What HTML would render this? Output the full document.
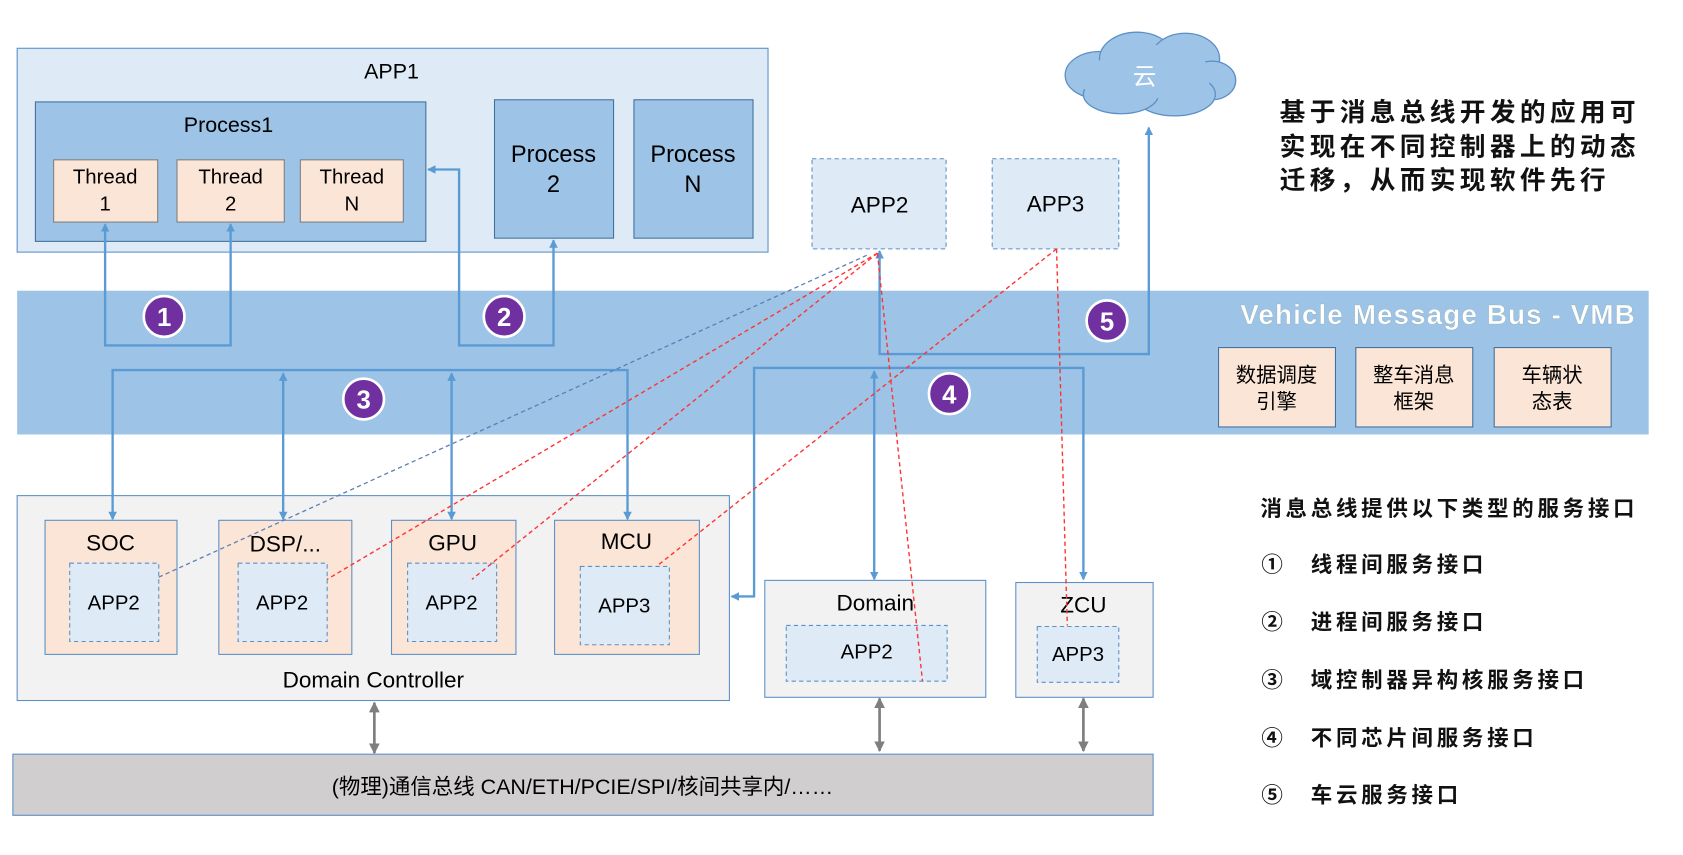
<!DOCTYPE html>
<html><head><meta charset="utf-8"><style>
html,body{margin:0;padding:0;background:#fff;}
svg{display:block;}
text{font-family:"Liberation Sans","Noto Sans CJK SC",sans-serif;}
</style></head><body>
<svg width="1683" height="855" viewBox="0 0 1569 797" preserveAspectRatio="none" xmlns="http://www.w3.org/2000/svg">
<defs>
<marker id="ab" markerWidth="8" markerHeight="8" refX="7" refY="4" orient="auto-start-reverse" markerUnits="userSpaceOnUse"><path d="M0,0 L8,4 L0,8 z" fill="#5b9bd5"/></marker>
<marker id="ag" markerWidth="10" markerHeight="10" refX="9" refY="5" orient="auto-start-reverse" markerUnits="userSpaceOnUse"><path d="M0,0 L10,5 L0,10 z" fill="#7f7f7f"/></marker>
</defs>
<rect x="16" y="45" width="700" height="190" fill="#deebf7" stroke="#5b8fc7"/>
<text x="365" y="73" font-size="20" text-anchor="middle">APP1</text>
<rect x="33" y="95" width="364" height="130" fill="#9dc3e6" stroke="#41719c"/>
<text x="213" y="123" font-size="20" text-anchor="middle">Process1</text>
<g font-size="19" text-anchor="middle">
<rect x="50" y="149" width="97" height="58" fill="#fbe5d6" stroke="#7f7f7f"/><text x="98" y="171">Thread</text><text x="98" y="196">1</text>
<rect x="165" y="149" width="100" height="58" fill="#fbe5d6" stroke="#7f7f7f"/><text x="215" y="171">Thread</text><text x="215" y="196">2</text>
<rect x="280" y="149" width="96" height="58" fill="#fbe5d6" stroke="#7f7f7f"/><text x="328" y="171">Thread</text><text x="328" y="196">N</text>
</g>
<rect x="461" y="93" width="111" height="129" fill="#9dc3e6" stroke="#41719c"/>
<rect x="591" y="93" width="111" height="129" fill="#9dc3e6" stroke="#41719c"/>
<g font-size="22" text-anchor="middle"><text x="516" y="151">Process</text><text x="516" y="179">2</text><text x="646" y="151">Process</text><text x="646" y="179">N</text></g>
<g fill="#9dc3e6" stroke="#5b8fc7" stroke-width="1.2">
<ellipse cx="1025" cy="70" rx="32" ry="22"/><ellipse cx="1060" cy="55" rx="35" ry="25"/><ellipse cx="1105" cy="55" rx="32" ry="24"/><ellipse cx="1130" cy="75" rx="22" ry="18"/><ellipse cx="1095" cy="88" rx="38" ry="20"/><ellipse cx="1045" cy="88" rx="35" ry="18"/>
</g>
<g fill="#9dc3e6"><ellipse cx="1065" cy="72" rx="65" ry="20"/><ellipse cx="1075" cy="62" rx="50" ry="20"/></g>
<text x="1067" y="79" font-size="22" fill="#fff" text-anchor="middle">云</text>
<g font-size="24" font-weight="bold" fill="#111" letter-spacing="4"><text x="1193" y="113">基于消息总线开发的应用可</text><text x="1193" y="145">实现在不同控制器上的动态</text><text x="1193" y="176">迁移，从而实现软件先行</text></g>
<rect x="757" y="148" width="125" height="84" fill="#deebf7" stroke="#5b8fc7" stroke-dasharray="4,3"/>
<text x="820" y="198" font-size="21" text-anchor="middle">APP2</text>
<rect x="925" y="148" width="118" height="84" fill="#deebf7" stroke="#5b8fc7" stroke-dasharray="4,3"/>
<text x="984" y="197" font-size="21" text-anchor="middle">APP3</text>
<rect x="16" y="271" width="1521" height="134" fill="#9dc3e6"/>
<text x="1525" y="302" font-size="26" font-weight="bold" fill="#fff" text-anchor="end" letter-spacing="1" stroke="#8aa" stroke-width="0.3">Vehicle Message Bus - VMB</text>
<g font-size="19" text-anchor="middle">
<rect x="1136" y="324" width="109" height="74" fill="#fbe5d6" stroke="#41719c"/><text x="1190" y="356">数据调度</text><text x="1190" y="381">引擎</text>
<rect x="1264" y="324" width="109" height="74" fill="#fbe5d6" stroke="#41719c"/><text x="1318" y="356">整车消息</text><text x="1318" y="381">框架</text>
<rect x="1393" y="324" width="109" height="74" fill="#fbe5d6" stroke="#41719c"/><text x="1447" y="356">车辆状</text><text x="1447" y="381">态表</text>
</g>
<rect x="16" y="462" width="664" height="191" fill="#f2f2f2" stroke="#5b8fc7"/>
<text x="348" y="641" font-size="21" text-anchor="middle">Domain Controller</text>
<g font-size="21" text-anchor="middle">
<rect x="42" y="485" width="123" height="125" fill="#fbe5d6" stroke="#5b8fc7"/><text x="103" y="513">SOC</text>
<rect x="204" y="485" width="124" height="125" fill="#fbe5d6" stroke="#5b8fc7"/><text x="266" y="514">DSP/...</text>
<rect x="365" y="485" width="116" height="125" fill="#fbe5d6" stroke="#5b8fc7"/><text x="422" y="513">GPU</text>
<rect x="517" y="485" width="135" height="125" fill="#fbe5d6" stroke="#5b8fc7"/><text x="584" y="512">MCU</text>
</g>
<g font-size="19" text-anchor="middle">
<rect x="65" y="525" width="83" height="73" fill="#deebf7" stroke="#5b8fc7" stroke-dasharray="4,3"/><text x="106" y="568">APP2</text>
<rect x="222" y="525" width="83" height="73" fill="#deebf7" stroke="#5b8fc7" stroke-dasharray="4,3"/><text x="263" y="568">APP2</text>
<rect x="380" y="525" width="83" height="73" fill="#deebf7" stroke="#5b8fc7" stroke-dasharray="4,3"/><text x="421" y="568">APP2</text>
<rect x="541" y="528" width="83" height="73" fill="#deebf7" stroke="#5b8fc7" stroke-dasharray="4,3"/><text x="582" y="571">APP3</text>
</g>
<rect x="713" y="541" width="206" height="109" fill="#f2f2f2" stroke="#5b8fc7"/>
<text x="816" y="569" font-size="21" text-anchor="middle">Domain</text>
<rect x="733" y="583" width="150" height="52" fill="#deebf7" stroke="#5b8fc7" stroke-dasharray="4,3"/>
<text x="808" y="614" font-size="19" text-anchor="middle">APP2</text>
<rect x="947" y="543" width="128" height="107" fill="#f2f2f2" stroke="#5b8fc7"/>
<text x="1010" y="571" font-size="21" text-anchor="middle">ZCU</text>
<rect x="967" y="584" width="76" height="52" fill="#deebf7" stroke="#5b8fc7" stroke-dasharray="4,3"/>
<text x="1005" y="616" font-size="19" text-anchor="middle">APP3</text>
<rect x="12" y="703" width="1063" height="57" fill="#d0cece" stroke="#5b8fc7"/>
<text x="543" y="740" font-size="20" text-anchor="middle">(物理)通信总线 CAN/ETH/PCIE/SPI/核间共享内/……</text>
<g stroke="#7f7f7f" stroke-width="2.5" fill="none" marker-start="url(#ag)" marker-end="url(#ag)">
<line x1="349" y1="655" x2="349" y2="702"/><line x1="820" y1="651" x2="820" y2="700"/><line x1="1010" y1="651" x2="1010" y2="700"/>
</g>
<g stroke="#5b9bd5" stroke-width="2.2" fill="none">
<path d="M98,209 V322 H215 V209" marker-start="url(#ab)" marker-end="url(#ab)"/>
<path d="M399,158 H428 V322 H516 V224" marker-start="url(#ab)" marker-end="url(#ab)"/>
<path d="M105,484 V345 H585 V484" marker-start="url(#ab)" marker-end="url(#ab)"/>
<line x1="264" y1="348" x2="264" y2="484" marker-start="url(#ab)" marker-end="url(#ab)"/>
<line x1="421" y1="348" x2="421" y2="484" marker-start="url(#ab)" marker-end="url(#ab)"/>
<path d="M682,556 H703 V343 H1010 V540" marker-start="url(#ab)" marker-end="url(#ab)"/>
<line x1="815" y1="346" x2="815" y2="540" marker-start="url(#ab)" marker-end="url(#ab)"/>
<path d="M820,234 V330 H1071 V119" marker-start="url(#ab)" marker-end="url(#ab)"/>
</g>
<line x1="808" y1="238" x2="148" y2="538" stroke="#5b7fb5" stroke-width="1.2" stroke-dasharray="4,3"/>
<g stroke="#ff3333" stroke-width="1.3" stroke-dasharray="4,3">
<line x1="818" y1="236" x2="305" y2="540"/><line x1="818" y1="236" x2="440" y2="540"/><line x1="818" y1="236" x2="860" y2="635"/>
<line x1="985" y1="232" x2="612" y2="528"/><line x1="985" y1="232" x2="995" y2="583"/>
</g>
<g font-size="24" fill="#fff" text-anchor="middle" font-weight="bold">
<circle cx="153" cy="295" r="19" fill="#7030a0" stroke="#fff" stroke-width="2.5"/><text x="153" y="304">1</text>
<circle cx="470" cy="295" r="19" fill="#7030a0" stroke="#fff" stroke-width="2.5"/><text x="470" y="304">2</text>
<circle cx="339" cy="372" r="19" fill="#7030a0" stroke="#fff" stroke-width="2.5"/><text x="339" y="381">3</text>
<circle cx="885" cy="367" r="19" fill="#7030a0" stroke="#fff" stroke-width="2.5"/><text x="885" y="376">4</text>
<circle cx="1032" cy="299" r="19" fill="#7030a0" stroke="#fff" stroke-width="2.5"/><text x="1032" y="308">5</text>
</g>
<g font-size="20" font-weight="bold" fill="#111" letter-spacing="3.5">
<text x="1175" y="481">消息总线提供以下类型的服务接口</text>
<text x="1176" y="533">①</text><text x="1222" y="533">线程间服务接口</text>
<text x="1176" y="587">②</text><text x="1222" y="587">进程间服务接口</text>
<text x="1176" y="641">③</text><text x="1222" y="641">域控制器异构核服务接口</text>
<text x="1176" y="695">④</text><text x="1222" y="695">不同芯片间服务接口</text>
<text x="1176" y="748">⑤</text><text x="1222" y="748">车云服务接口</text>
</g>
</svg>
</body></html>
